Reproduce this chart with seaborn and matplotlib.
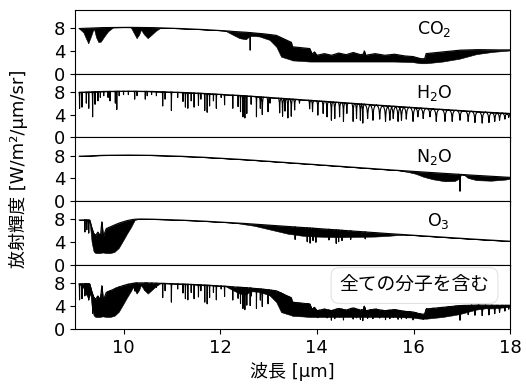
import numpy as np
import matplotlib
matplotlib.use("Agg")
import matplotlib.pyplot as plt
import seaborn as sns

# ---- values (wavelength in um, radiance in W/m2/um/sr) ----
# continuum without absorption
cont_wl = [9.0, 9.5, 10.0, 10.5, 11.0, 11.5, 12.0, 12.5, 13.0, 13.5,
           14.0, 14.5, 15.0, 15.5, 16.0, 16.5, 17.0, 17.5, 18.0]
cont_rad = [7.87, 8.05, 8.11, 8.08, 7.96, 7.79, 7.56, 7.31, 7.02, 6.72,
            6.43, 6.12, 5.82, 5.52, 5.24, 4.96, 4.69, 4.43, 4.19]

# CO2: two weak bands near 9.4 / 10.4 um (top = continuum) and the 15 um band
co2_a_wl = [9.08, 9.17, 9.22, 9.27, 9.32, 9.37, 9.39, 9.43, 9.48, 9.53, 9.6, 9.68, 9.78]
co2_a_low = [7.9, 7.2, 6.2, 5.3, 6.4, 7.6, 7.8, 6.4, 5.5, 5.6, 6.5, 7.4, 8.08]
co2_b_wl = [10.15, 10.22, 10.27, 10.32, 10.36, 10.42, 10.5, 10.58, 10.67, 10.77]
co2_b_low = [8.1, 7.0, 6.2, 6.8, 7.7, 6.9, 6.2, 6.8, 7.5, 8.05]
co2_c_wl = [12.1, 12.26, 12.4, 12.53, 12.6, 12.67, 12.81, 13.02, 13.16, 13.26,
            13.43, 13.47, 13.49, 13.7, 13.85, 13.9, 13.95, 14.0, 14.15, 14.3,
            14.45, 14.6, 14.75, 14.9, 14.96, 14.98, 15.01, 15.2, 15.4, 15.6,
            15.8, 15.98, 16.15, 16.23, 16.26, 16.6, 16.95, 17.3, 17.64, 18.0]
co2_c_top = [7.52, 7.38, 7.32, 7.25, 7.2, 7.15, 7.06, 6.85, 6.7, 6.3,
             5.6, 5.5, 4.7, 4.5, 4.4, 3.4, 3.8, 3.2, 3.5, 3.2,
             3.6, 3.3, 3.7, 3.3, 3.4, 4.0, 3.2, 3.5, 3.2, 3.4,
             3.1, 3.0, 2.6, 2.6, 3.5, 3.8, 4.1, 4.2, 4.15, 4.15]
co2_c_low = [7.52, 6.8, 6.2, 6.0, 6.5, 6.6, 6.5, 5.9, 4.7, 2.95,
             2.5, 2.4, 2.3, 2.2, 2.1, 2.1, 2.1, 2.1, 2.1, 2.1,
             2.1, 2.1, 2.1, 2.1, 2.1, 2.1, 2.1, 2.1, 2.1, 2.1,
             2.05, 2.0, 1.8, 1.8, 1.8, 2.1, 2.6, 3.4, 3.8, 4.05]
co2_line_wl = [12.62]
co2_line_rad = [4.1]

# H2O: individual lines (centre, radiance at line centre)
h2o_line_wl = [9.09, 9.14, 9.23, 9.28, 9.36, 9.41, 9.47, 9.52, 9.59, 9.68,
               9.72, 9.83, 9.86, 9.91, 10.0, 10.1, 10.23, 10.28, 10.45, 10.49,
               10.58, 10.68, 10.81, 10.86, 10.99, 11.12, 11.23, 11.28, 11.33, 11.40,
               11.46, 11.55, 11.60, 11.68, 11.73, 11.78, 11.86, 11.92, 12.02, 12.09,
               12.26, 12.37, 12.42, 12.47, 12.51, 12.55, 12.64, 12.75, 12.83, 12.87,
               12.99, 13.03, 13.23, 13.29, 13.34, 13.40, 13.47, 13.54, 13.64, 13.85,
               13.91, 14.02, 14.13, 14.21, 14.30, 14.37, 14.47, 14.55, 14.62, 14.75,
               14.82, 14.90, 14.95, 15.05, 15.16, 15.30, 15.42, 15.51, 15.58, 15.68,
               15.75, 15.85, 15.99, 16.09, 16.20, 16.34, 16.47, 16.65, 16.80, 16.96,
               17.13, 17.27, 17.42, 17.56, 17.68, 17.78, 17.89, 17.97]
h2o_line_rad = [5.1, 5.3, 6.0, 5.1, 3.6, 5.8, 6.4, 7.0, 7.3, 7.0,
                6.4, 6.0, 4.9, 7.3, 7.5, 7.5, 6.7, 7.3, 6.7, 7.3,
                7.5, 7.3, 5.5, 6.7, 4.7, 7.0, 6.3, 5.3, 5.1, 6.4,
                5.3, 5.6, 6.7, 4.7, 4.4, 5.5, 6.4, 5.1, 7.0, 5.7,
                5.1, 5.4, 4.5, 3.6, 3.4, 4.2, 5.8, 3.6, 5.1, 4.0,
                4.5, 6.0, 4.3, 3.7, 4.6, 3.4, 3.7, 4.8, 6.0, 5.0,
                4.5, 3.9, 4.2, 3.6, 3.0, 3.3, 3.6, 2.8, 4.2, 2.8,
                3.3, 3.0, 2.5, 3.3, 3.0, 3.2, 2.8, 3.0, 3.3, 2.8,
                3.0, 3.2, 2.8, 3.6, 3.3, 3.6, 2.8, 2.8, 2.8, 3.0,
                2.8, 2.6, 2.5, 2.6, 2.8, 3.0, 3.2, 3.5]

# N2O: band beyond 15.7 um (top = continuum) plus the sharp line near 17 um
n2o_wl = [15.7, 15.9, 16.05, 16.2, 16.4, 16.65, 16.85, 16.93, 16.98, 17.05,
          17.12, 17.3, 17.6, 17.9, 18.0]
n2o_low = [5.4, 5.1, 4.8, 4.3, 3.85, 3.5, 3.55, 3.9, 4.7, 4.6,
           4.1, 3.7, 3.6, 3.8, 3.95]
n2o_line_wl = [16.96]
n2o_line_rad = [1.75]

# O3: 9.6 um band and weak band 12.3-15.8 um
o3_a_wl = [9.08, 9.2, 9.3, 9.34, 9.38, 9.42, 9.47, 9.52, 9.55, 9.58,
           9.64, 9.72, 9.81, 9.9, 9.99, 10.07, 10.15, 10.23, 10.3]
o3_a_top = [7.9, 7.95, 7.9, 6.6, 5.6, 5.2, 5.8, 5.0, 7.6, 5.0,
            6.4, 6.7, 7.05, 7.35, 7.6, 7.8, 7.95, 8.05, 8.08]
o3_a_low = [7.9, 7.9, 7.4, 4.0, 2.4, 2.1, 2.1, 2.1, 2.2, 2.2,
            2.1, 2.1, 2.3, 3.0, 4.3, 5.5, 6.6, 7.9, 8.08]
o3_b_wl = [12.3, 12.7, 13.0, 13.4, 13.7, 14.0, 14.4, 14.8, 15.2, 15.5, 15.8]
o3_b_low = [7.41, 6.9, 6.3, 5.5, 5.15, 5.0, 4.9, 4.95, 5.0, 5.15, 5.35]
o3_line_wl = [9.2, 9.24, 9.28, 13.55, 13.8, 13.86, 13.92, 13.98, 14.25, 14.4,
              14.45, 14.52, 14.7, 15.0]
o3_line_rad = [5.8, 6.2, 5.6, 4.5, 4.1, 3.85, 4.3, 4.0, 4.4, 3.8,
               4.1, 4.3, 4.5, 4.6]

labels = ["CO$_2$", "H$_2$O", "N$_2$O", "O$_3$"]
all_label = "全ての分子を含む"

# ---- drawing ----
sns.set_style("ticks")
plt.rcParams["font.family"] = ["DejaVu Sans", "Noto Sans CJK JP"]
plt.rcParams["font.size"] = 13
for k in ["text.color", "axes.labelcolor", "xtick.color", "ytick.color", "axes.edgecolor"]:
    plt.rcParams[k] = "black"

grid = np.linspace(9.08, 18.0, 3000)
prof_dx = np.array([-1, -0.5, -0.22, -0.08, 0, 0.08, 0.22, 0.5, 1])
prof_f = np.array([0, 0.1, 0.3, 0.65, 1, 0.65, 0.3, 0.1, 0])


def envelope(bands):
    top = np.interp(grid, cont_wl, cont_rad)
    low = top.copy()
    for wl, up, lo in bands:
        m = (grid >= wl[0]) & (grid <= wl[-1])
        if up is not None:
            top[m] = np.interp(grid[m], wl, up)
        low[m] = np.interp(grid[m], wl, lo)
    return top, low


def line_paths(cs, ds, ws, top):
    xs_all, ys_all = [], []
    for c, d, w in zip(cs, ds, ws):
        xs = np.clip(c + prof_dx * w, grid[0], grid[-1])
        t = np.interp(xs, grid, top)
        tc = np.interp(c, grid, top)
        ys = t - prof_f * (tc - d)
        xs_all += list(xs) + [np.nan]
        ys_all += list(ys) + [np.nan]
    return xs_all, ys_all


def h2o_width(c):
    if c < 12.8:
        return 0.012
    if c < 14.98:
        return 0.03
    return 0.07


envs = {
    "co2": envelope([(co2_a_wl, None, co2_a_low), (co2_b_wl, None, co2_b_low),
                     (co2_c_wl, co2_c_top, co2_c_low)]),
    "h2o": envelope([]),
    "n2o": envelope([(n2o_wl, None, n2o_low)]),
    "o3": envelope([(o3_a_wl, o3_a_top, o3_a_low), (o3_b_wl, None, o3_b_low)]),
}
lines = {
    "co2": (co2_line_wl, co2_line_rad, [0.01] * len(co2_line_wl)),
    "h2o": (h2o_line_wl, h2o_line_rad, [h2o_width(c) for c in h2o_line_wl]),
    "n2o": (n2o_line_wl, n2o_line_rad, [0.03] * len(n2o_line_wl)),
    "o3": (o3_line_wl, o3_line_rad, [0.008] * len(o3_line_wl)),
}

top_all = np.min([e[0] for e in envs.values()], axis=0)
low_all = np.min([e[1] for e in envs.values()], axis=0)

fig, axes = plt.subplots(5, 1, sharex=True, figsize=(5.26, 3.87), dpi=100)
fig.subplots_adjust(left=0.143, right=0.970, bottom=0.150, top=0.975, hspace=0)

keys = ["co2", "h2o", "n2o", "o3"]
label_x = [0.825, 0.825, 0.825, 0.835]
for ax, key, lab, lx in zip(axes[:4], keys, labels, label_x):
    top, low = envs[key]
    ax.fill_between(grid, low, top, color="k", lw=0.4)
    sns.lineplot(x=grid, y=top, ax=ax, color="k", linewidth=0.8)
    cs, ds, ws = lines[key]
    lx_, ly_ = line_paths(cs, ds, ws, top)
    ax.plot(lx_, ly_, color="k", lw=0.8)
    ax.text(lx, 0.69, lab, transform=ax.transAxes, ha="center", va="center",
            fontsize=12.5)

# all molecules together
ax = axes[4]
ax.fill_between(grid, low_all, top_all, color="k", lw=0.4)
sns.lineplot(x=grid, y=top_all, ax=ax, color="k", linewidth=0.8)
for key in keys:
    cs, ds, ws = lines[key]
    top_k = envs[key][0]
    ds_all = [np.interp(c, grid, top_all) * d / np.interp(c, grid, top_k)
              for c, d in zip(cs, ds)]
    lx_, ly_ = line_paths(cs, ds_all, ws, top_all)
    ax.plot(lx_, ly_, color="k", lw=0.8)
ax.text(0.78, 0.68, all_label, transform=ax.transAxes, ha="center", va="center",
        fontsize=13.5, zorder=5,
        bbox=dict(boxstyle="round,pad=0.45", fc="white", ec="#e2e2e2", lw=0.8))

for ax in axes:
    ax.set_ylim(0, 11.2)
    ax.set_yticks([0, 4, 8])
    ax.set_xlim(9, 18)
    ax.set_xticks([10, 12, 14, 16, 18])
    ax.tick_params(labelsize=13)

axes[-1].set_xlabel("波長 [μm]", fontsize=13)
fig.text(0.035, 0.563, "放射輝度 [W/m²/μm/sr]", rotation=90, ha="center",
         va="center", fontsize=13)

fig.savefig("out.png", dpi=100)
